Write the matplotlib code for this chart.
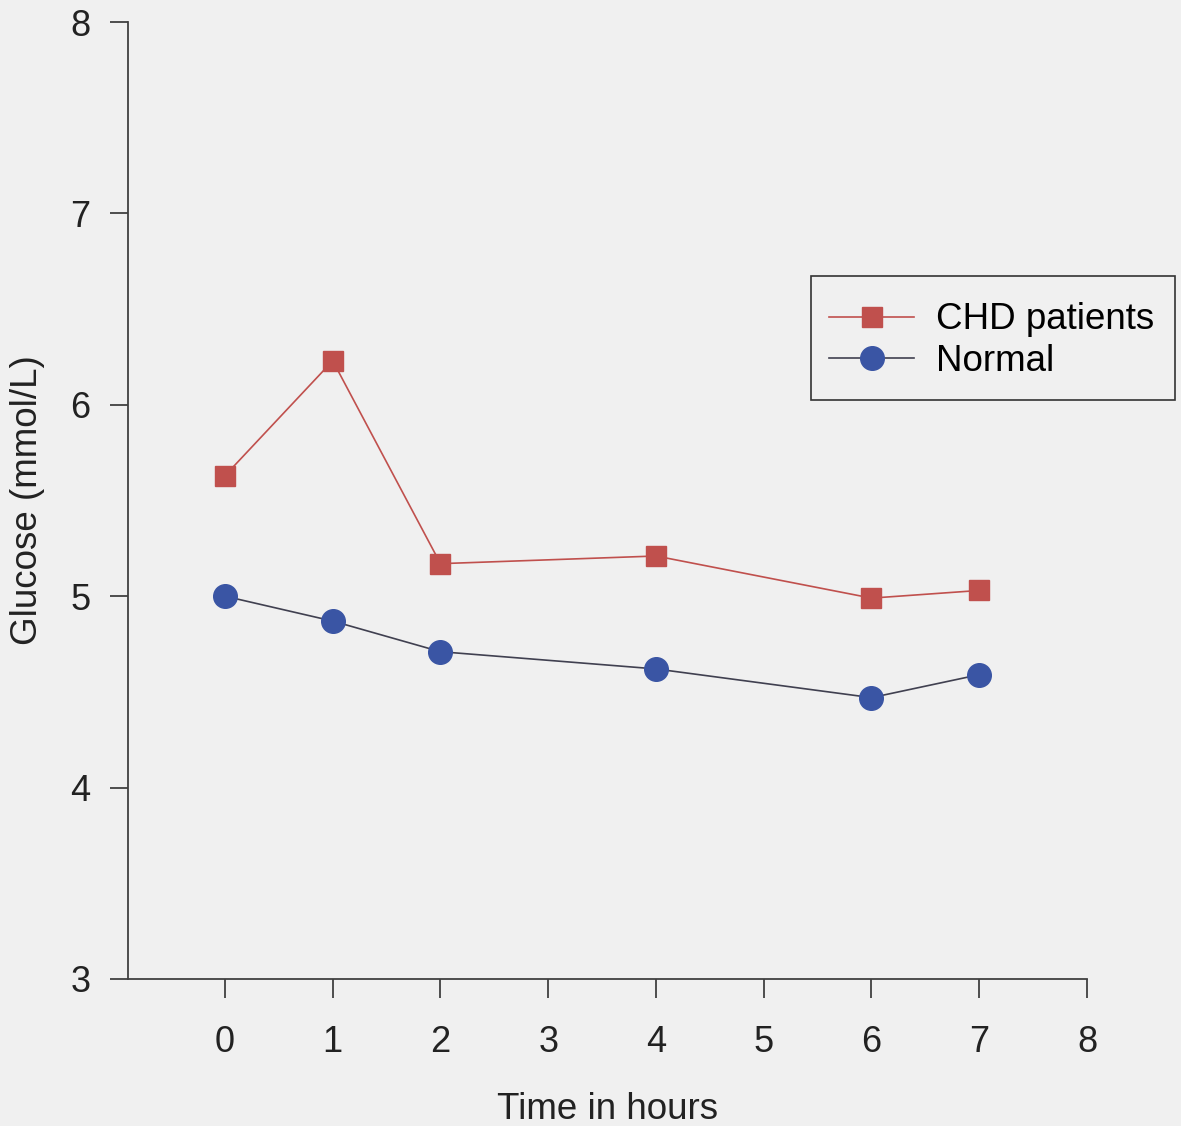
import matplotlib
matplotlib.use("Agg")
import matplotlib.pyplot as plt
from matplotlib.patches import Rectangle

plt.rcParams['font.family'] = ['Liberation Sans', 'DejaVu Sans']

hours = [0, 1, 2, 4, 6, 7]
chd = [5.63, 6.23, 5.17, 5.21, 4.99, 5.03]
normal = [5.00, 4.87, 4.71, 4.62, 4.47, 4.59]
xticks = [0, 1, 2, 3, 4, 5, 6, 7, 8]
yticks = [3, 4, 5, 6, 7, 8]

W, H = 1181, 1126
bg = '#f0f0f0'
fig = plt.figure(figsize=(W/100, H/100), dpi=100, facecolor=bg)
ax = fig.add_axes([128/W, 1-979/H, (1087-128)/W, (979-22)/H])
ax.set_facecolor(bg)

ax.plot(hours, chd, color='#c0504d', lw=1.2, marker='s', ms=15,
        mfc='#c0504d', mec='#c0504d', label='CHD patients', zorder=3)
ax.plot(hours, normal, color='#404050', lw=1.2, marker='o', ms=17,
        mfc='#3a55a4', mec='#3a55a4', label='Normal', zorder=3)

ax.set_xlim(-0.9, 8)
ax.set_ylim(3, 8)
ax.set_xticks(xticks)
ax.set_yticks(yticks)
for s in ['top', 'right']:
    ax.spines[s].set_visible(False)
for s in ['left', 'bottom']:
    ax.spines[s].set_color('#404040')
    ax.spines[s].set_linewidth(1.3)
ax.tick_params(axis='x', direction='out', length=14, width=1.3,
               color='#404040', labelsize=26, pad=19, labelcolor='#222222')
ax.tick_params(axis='y', direction='out', length=13, width=1.3,
               color='#404040', labelsize=26, pad=14, labelcolor='#222222')

ax.set_xlabel('Time in hours', fontsize=26.5, color='#222222', labelpad=23)
ax.set_ylabel('Glucose (mmol/L)', fontsize=26.5, color='#222222', labelpad=18)

leg = ax.legend(loc='upper left', bbox_to_anchor=(811/W, 1-284/H),
                bbox_transform=fig.transFigure, fontsize=26.5, frameon=False,
                handlelength=2.3, borderpad=0.5, labelspacing=0.17,
                handletextpad=0.6, borderaxespad=0)
fig.patches.append(Rectangle((811/W, 1-400/H), (1175-811)/W, (400-276)/H,
                             transform=fig.transFigure, fill=False,
                             edgecolor='#333333', linewidth=1.2, zorder=5))

fig.savefig('out.png', dpi=100, facecolor=bg)
